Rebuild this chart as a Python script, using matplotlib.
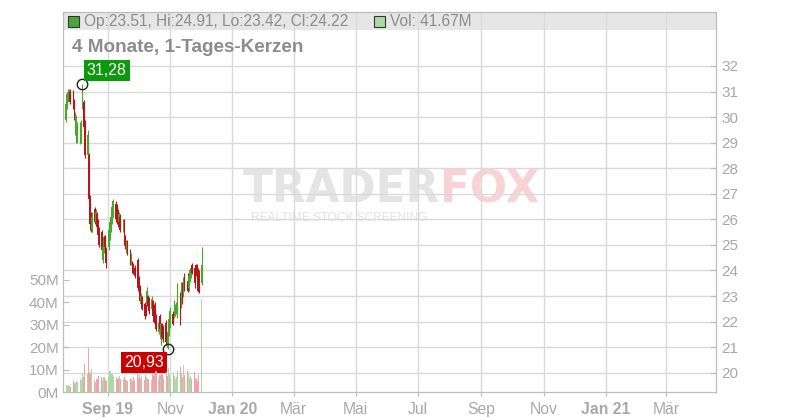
import matplotlib
matplotlib.use("Agg")
import matplotlib.pyplot as plt
import matplotlib.dates as mdates
import numpy as np
import pandas as pd

plt.rcParams['font.family'] = ['Liberation Sans', 'DejaVu Sans']

# 97 trading days, 19.07.2019 - 02.12.2019
dates = pd.bdate_range("2019-07-19", "2019-12-02")

opens = [30.3, 29.9, 30.5, 30.7, 30.8, 31.0, 31.0, 30.6, 29.6, 29.2, 29.1, 29.0, 29.3, 30.4, 30.6, 29.8,
         28.5, 28.5, 26.9, 26.2, 25.6, 26.4, 25.9, 26.2, 25.9, 25.6, 25.5, 24.4, 24.8, 25.3, 24.8,
         24.9, 25.3, 25.6, 26.0, 26.2, 26.6, 26.5, 26.3, 25.9, 26.1, 25.6, 25.9, 25.3, 24.8, 25.1,
         24.8, 24.3, 24.3, 24.2, 24.1, 24.4, 23.7, 23.4, 22.7, 23.0, 22.7, 22.6, 22.7, 23.0, 22.9,
         22.5, 22.8, 22.6, 22.5, 22.2, 21.6, 22.2, 21.3, 21.9, 21.8, 21.95, 21.5, 21.0, 21.5, 21.9,
         22.3, 22.2, 22.3, 22.4, 22.5, 23.0, 22.6, 23.4, 23.0, 23.8, 23.6, 23.3, 23.6, 23.8, 24.2,
         24.1, 24.2, 24.2, 24.0, 23.9, 23.51]
highs = [30.6, 30.9, 31.0, 31.1, 31.1, 31.1, 31.05, 30.7, 30.2, 30.1, 29.8, 29.8, 29.9, 31.28, 30.65, 29.9,
         29.5, 28.6, 26.95, 26.3, 26.3, 26.5, 26.4, 26.3, 26.0, 25.7, 25.6, 25.0, 25.4, 25.4, 24.9,
         25.7, 26.0, 26.3, 26.6, 26.8, 26.7, 26.6, 26.4, 26.3, 26.2, 26.0, 26.0, 25.4, 25.2, 25.2,
         24.85, 24.7, 24.35, 24.3, 24.2, 24.5, 23.8, 23.45, 23.1, 23.0, 22.75, 22.7, 23.35, 23.05, 22.95,
         23.0, 22.85, 22.7, 22.75, 22.3, 22.05, 22.3, 21.95, 21.95, 21.85, 22.05, 21.55, 21.65, 22.25, 22.56,
         22.4, 22.85, 22.7, 22.75, 23.5, 23.15, 23.55, 23.55, 23.75, 23.9, 23.9, 23.9, 24.1, 24.2, 24.3,
         24.2, 24.25, 24.25, 24.1, 24.0, 24.91]
lows = [29.7, 29.8, 30.3, 30.6, 30.7, 30.5, 30.3, 29.9, 29.3, 29.0, 29.0, 28.95, 29.0, 30.3, 29.5, 28.4,
        28.4, 26.6, 25.6, 25.5, 25.5, 25.8, 25.8, 25.6, 25.3, 24.9, 24.6, 24.3, 24.7, 24.8, 24.1,
        24.8, 25.2, 25.5, 25.8, 26.1, 25.9, 25.8, 25.7, 25.8, 25.5, 25.5, 25.0, 24.85, 24.7, 24.6,
        24.2, 24.2, 23.9, 23.85, 23.7, 23.2, 23.2, 22.75, 22.6, 22.45, 22.1, 22.2, 22.6, 22.5, 22.3,
        22.4, 22.1, 21.95, 21.95, 21.65, 21.5, 21.6, 21.1, 21.3, 21.2, 21.1, 21.0, 20.93, 21.45, 21.75,
        21.85, 22.15, 22.2, 22.3, 22.15, 21.85, 22.55, 22.7, 22.95, 23.2, 23.15, 23.2, 23.55, 23.7, 23.85,
        23.3, 23.8, 24.0, 23.15, 23.1, 23.42]
closes = [29.8, 30.5, 30.9, 31.0, 31.05, 30.6, 30.4, 30.1, 30.1, 29.9, 29.7, 29.6, 29.8, 30.9, 29.6, 28.5,
          29.3, 26.8, 25.8, 25.7, 26.1, 25.9, 26.3, 25.7, 25.4, 25.0, 24.8, 24.9, 25.3, 24.9, 24.3,
          25.6, 25.9, 26.1, 26.5, 26.7, 26.0, 25.9, 25.8, 26.2, 25.6, 25.9, 25.1, 24.9, 25.1, 24.7,
          24.3, 24.6, 24.0, 23.9, 23.8, 23.3, 23.3, 22.8, 23.0, 22.5, 22.2, 22.3, 23.2, 22.6, 22.4,
          22.9, 22.2, 22.0, 22.0, 21.7, 21.95, 21.7, 21.9, 21.4, 21.3, 21.2, 21.1, 21.6, 22.1, 22.4,
          21.9, 22.7, 22.6, 22.7, 23.3, 22.0, 23.4, 22.8, 23.6, 23.3, 23.2, 23.8, 24.0, 24.1, 23.9,
          23.5, 23.9, 24.1, 23.2, 23.2, 24.22]
volumes = [3.5, 3.2, 2.8, 3.0, 2.5, 2.2, 4.8, 4.0, 4.2, 5.0, 4.4, 5.6, 5.2, 8.5, 6.8, 12.3,
           8.0, 19.7, 9.0, 8.4, 10.4, 5.5, 4.5, 6.0, 5.8, 7.0, 6.5, 5.2, 6.8, 5.5, 4.8,
           6.2, 9.5, 7.5, 8.2, 6.5, 6.9, 5.8, 6.3, 7.2, 5.9, 6.0, 6.8, 5.5, 5.2, 4.9,
           6.4, 5.7, 5.0, 6.6, 5.3, 8.4, 6.3, 7.5, 5.9, 6.5, 5.5, 7.7, 6.9, 5.8, 6.0,
           5.5, 8.7, 7.2, 8.0, 9.3, 5.6, 7.8, 6.4, 8.2, 6.0, 8.9, 7.1, 10.6, 7.4, 6.3,
           8.1, 7.0, 5.8, 6.6, 9.4, 11.3, 8.5, 6.9, 12.0, 7.5, 9.2, 8.0, 6.3, 7.1, 5.9,
           8.8, 6.4, 5.6, 4.9, 7.5, 41.67]  # Mio.

tick_dates = ["2019-09-01", "2019-11-01", "2020-01-01", "2020-03-01", "2020-05-01",
              "2020-07-01", "2020-09-01", "2020-11-01", "2021-01-01", "2021-03-01"]
tick_labels = ["Sep 19", "Nov", "Jan 20", "Mär", "Mai", "Jul", "Sep", "Nov", "Jan 21", "Mär"]
price_ticks = list(range(20, 33))
vol_ticks = [0, 10, 20, 30, 40, 50]

GREEN = "#48a82a"
RED = "#b5161b"
VGREEN = "#a9dba1"
VRED = "#f0a3aa"
GRID = "#dadada"
TXT = "#a8a8a8"

W, H = 800, 420
fig = plt.figure(figsize=(8, 4.2), dpi=100)
L, R, T, B = 63, 716, 12, 392
ax = fig.add_axes([L / W, 1 - B / H, (R - L) / W, (B - T) / H])
ax2 = ax.twinx()

o = np.array(opens); h = np.array(highs); lo = np.array(lows); c = np.array(closes)
v = np.array(volumes)
x = mdates.date2num(dates)
up = c >= o
col = np.where(up, GREEN, RED)
vcol = np.where(up, VGREEN, VRED)

# volume (left axis)
ax2.bar(x, v, width=1.2, color=vcol, linewidth=0, zorder=2)
ax2.set_ylim(0, 169.6)
ax2.set_yticks(vol_ticks)
ax2.set_yticklabels([f"{t}M" for t in vol_ticks])
ax2.yaxis.tick_left()

# candles (right axis)
ax.vlines(x, lo, h, colors=col, linewidth=0.8, zorder=3)
ax.bar(x, np.maximum(np.abs(c - o), 0.03), bottom=np.minimum(o, c), width=1.5,
       color=col, linewidth=0, zorder=3)
ax.set_ylim(19.245, 34.11)
ax.set_yticks(price_ticks)
ax.yaxis.tick_right()

x0 = mdates.date2num(pd.Timestamp("2019-09-01"))
ax.set_xlim(x0 - 44.1, x0 + 596.1)
ax.set_xticks(mdates.date2num(pd.to_datetime(tick_dates)))
ax.set_xticklabels(tick_labels)
for lab in ax.get_xticklabels():
    if lab.get_text()[-2:].isdigit():
        lab.set_fontweight("bold")
        lab.set_color("#9a9a9a")

ax.grid(True, color=GRID, linewidth=1)
ax.set_axisbelow(True)
for a in (ax, ax2):
    for s in a.spines.values():
        s.set_color("#bdbdbd")
ax.tick_params(axis="x", direction="out", length=3, color="#bdbdbd", labelsize=11.3,
               labelcolor=TXT, pad=4)
ax.tick_params(axis="y", direction="in", length=4, color="#bdbdbd", labelsize=11,
               labelcolor=TXT, pad=4)
ax2.tick_params(axis="y", direction="in", length=4, color="#bdbdbd", labelsize=11,
                labelcolor=TXT, pad=3)

# header band
ax.add_patch(plt.Rectangle((0, 1 - 18 / 380), 1, 18 / 380, transform=ax.transAxes,
                           facecolor="#e6e6e6", edgecolor="none", zorder=0.2))

# watermark
ax.text(0.577, 0.532, "TRADER", transform=ax.transAxes, ha="right", va="center",
        fontsize=31.5, fontweight="bold", family="DejaVu Sans", color="#e4e4e4", zorder=0.3)
ax.text(0.577, 0.532, "FOX", transform=ax.transAxes, ha="left", va="center",
        fontsize=31.5, fontweight="bold", family="DejaVu Sans", color="#f9d3d3", zorder=0.3)
ax.text(0.423, 0.458, "REALTIME STOCK SCREENING", transform=ax.transAxes, ha="center",
        va="center", fontsize=8.6, color="#e2e2e2", zorder=0.3)

# high / low markers
ih = int(np.argmax(h)); il = int(np.argmin(lo))
ax.plot([x[ih], x[il]], [h[ih], lo[il]], "o", mfc="none", mec="#222222", ms=7.5, mew=1, zorder=5)
ax.annotate(f"{h[ih]:.2f}".replace(".", ","), (x[ih], h[ih]), xytext=(17.5, 10),
            textcoords="offset points", ha="center", va="center", color="white", fontsize=11.5,
            bbox=dict(boxstyle="square,pad=0.18", fc="#0b9a0b", ec="none"), zorder=6)
ax.annotate(f"{lo[il]:.2f}".replace(".", ","), (x[il], lo[il]), xytext=(-17.5, -10),
            textcoords="offset points", ha="center", va="center", color="white", fontsize=11.5,
            bbox=dict(boxstyle="square,pad=0.18", fc="#cc0000", ec="none"), zorder=6)

# header texts
def fx(px):
    return px / W

def fy(py):
    return 1 - py / H

fig.patches.append(plt.Rectangle((fx(68), fy(27)), 11 / W, 11 / H, transform=fig.transFigure,
                                 facecolor="#4aa637", edgecolor="#333333", linewidth=0.8))
fig.text(fx(84), fy(21.5), f"Op:{o[-1]:.2f}, Hi:{h[-1]:.2f}, Lo:{lo[-1]:.2f}, Cl:{c[-1]:.2f}",
         ha="left", va="center", fontsize=11.2, color="#8c8c8c")
fig.patches.append(plt.Rectangle((fx(374), fy(27)), 11 / W, 11 / H, transform=fig.transFigure,
                                 facecolor="#abd9a6", edgecolor="#333333", linewidth=0.8))
fig.text(fx(390), fy(21.5), f"Vol: {v[-1]:.2f}M", ha="left", va="center", fontsize=11.2,
         color="#8c8c8c")
fig.text(fx(72), fy(47), "4 Monate, 1-Tages-Kerzen", ha="left", va="center", fontsize=13.6,
         fontweight="bold", color="#8c8c8c")

fig.savefig("out.png", dpi=100)
